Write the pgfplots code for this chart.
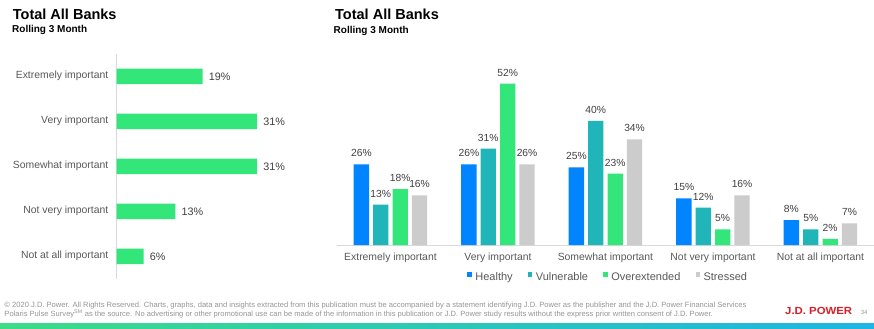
\documentclass[border=0pt]{standalone}
\usepackage{fontspec}
\setmainfont{Liberation Sans}
\usepackage{pgfplots}
\pgfplotsset{compat=1.18}
\definecolor{cHealthy}{RGB}{0,132,255}
\definecolor{cVuln}{RGB}{32,182,185}
\definecolor{cOver}{RGB}{51,230,122}
\definecolor{cStress}{RGB}{204,204,204}
\definecolor{labelgray}{RGB}{89,89,89}
\definecolor{valgray}{RGB}{64,64,64}
\definecolor{axgray}{RGB}{217,217,217}
\definecolor{footgray}{RGB}{150,150,150}
\definecolor{jdred}{RGB}{218,30,40}
\definecolor{gradL}{RGB}{60,220,135}
\definecolor{gradR}{RGB}{30,180,228}
\newcommand{\fs}[1]{\fontsize{#1bp}{#1bp}\selectfont}
\pgfplotsset{sqlegend/.style={legend image code/.code={\fill[##1] (0bp,1.05bp) rectangle (4.5bp,5.55bp); \path (6.3bp,3bp);}}}
\begin{document}
\begin{tikzpicture}[x=1bp,y=1bp]
\fill[white] (0,0) rectangle (874,328);
\path[use as bounding box] (0,0) rectangle (874,328);
% titles
\node[anchor=base west, inner sep=0pt] at (12.7,308.5) {\fs{14.5}\bfseries Total All Banks};
\node[anchor=base west, inner sep=0pt] at (12,295.7) {\fs{10}\bfseries Rolling 3 Month};
\node[anchor=base west, inner sep=0pt] at (335,308.2) {\fs{14.5}\bfseries Total All Banks};
\node[anchor=base west, inner sep=0pt] at (333.5,294.3) {\fs{10}\bfseries Rolling 3 Month};
% left chart
\begin{axis}[at={(116.5bp,49.2bp)}, anchor=south west, scale only axis,
  width=181.4bp, height=225bp, xmin=0, xmax=40, ymin=0.5, ymax=5.5,
  xbar, bar width=15.5bp,
  axis x line=none, axis y line*=left,
  y axis line style={draw=axgray, line width=0.8bp},
  ytick={1,2,3,4,5},
  yticklabels={Not at all important, Not very important, Somewhat important, Very important, Extremely important},
  major tick length=0pt,
  yticklabel style={font=\fs{10.4}, text=labelgray, anchor=east, inner sep=0pt, xshift=-8bp},
  point meta=x,
  /pgf/number format/assume math mode=true,
  nodes near coords={\pgfmathprintnumber{\pgfplotspointmeta}\%},
  every node near coord/.append style={font=\fs{10.8}, text=valgray, anchor=west, inner sep=0pt, xshift=6bp},
  clip=false]
\addplot[fill=cOver, draw=none] coordinates {(19,5) (31,4) (31,3) (13,2) (6,1)};
\end{axis}
% right chart
\begin{axis}[at={(336.7bp,83bp)}, anchor=south west, scale only axis,
  width=537.5bp, height=170.8bp, xmin=-0.5, xmax=4.5, ymin=0, ymax=55,
  ybar=4.1bp, bar width=15.3bp,
  axis y line=none, axis x line*=bottom,
  x axis line style={draw=axgray, line width=0.8bp},
  xtick={0,1,2,3,4},
  xticklabels={Extremely important, Very important, Somewhat important, Not very important, Not at all important},
  major tick length=0pt,
  xticklabel style={font=\fs{10.4}, text=labelgray, anchor=north, inner sep=0pt, yshift=-7.7bp},
  point meta=y,
  /pgf/number format/assume math mode=true,
  nodes near coords={\pgfmathprintnumber{\pgfplotspointmeta}\%},
  every node near coord/.append style={font=\fs{10.3}, text=valgray, anchor=south, inner sep=0pt, yshift=7.2bp},
  legend style={at={(0.5048,-0.1915)}, anchor=center, draw=none, fill=none,
    legend columns=-1, font=\fs{11}, text=labelgray,
    nodes={inner sep=1.7bp, font=\fs{11}, text=labelgray},
    /tikz/every even column/.append style={column sep=13.5bp}},
  clip=false]
\addplot[fill=cHealthy, draw=none, sqlegend]
  coordinates {(0,26) (1,26) (2,25) (3,15) (4,8)};
\addplot[fill=cVuln, draw=none, sqlegend]
  coordinates {(0,13) (1,31) (2,40) (3,12) (4,5)};
\addplot[fill=cOver, draw=none, sqlegend]
  coordinates {(0,18) (1,52) (2,23) (3,5) (4,2)};
\addplot[fill=cStress, draw=none, sqlegend]
  coordinates {(0,16) (1,26) (2,34) (3,16) (4,7)};
\legend{Healthy, Vulnerable, Overextended, Stressed}
\end{axis}
% footer
\node[anchor=base west, inner sep=0pt, text=footgray] at (4.3,20.7) {\resizebox{742bp}{!}{\fs{7}© 2020 J.D. Power. All Rights Reserved. Charts, graphs, data and insights extracted from this publication must be accompanied by a statement identifying J.D. Power as the publisher and the J.D. Power Financial Services}};
\node[anchor=base west, inner sep=0pt, text=footgray] at (4.3,11.7) {\resizebox{708.4bp}{!}{\fs{7}Polaris Pulse Survey\textsuperscript{SM} as the source. No advertising or other promotional use can be made of the information in this publication or J.D. Power study results without the express prior written consent of J.D. Power.}};
\node[anchor=base west, inner sep=0pt, text=jdred] at (785,13.3) {\resizebox{67bp}{7.2bp}{\bfseries J.D. POWER}};
\node[anchor=base west, inner sep=0pt, text=footgray] at (860.7,13.6) {\fs{6}34};
\shade[left color=gradL, right color=gradR] (0,0) rectangle (874,4.3);
\end{tikzpicture}
\end{document}
